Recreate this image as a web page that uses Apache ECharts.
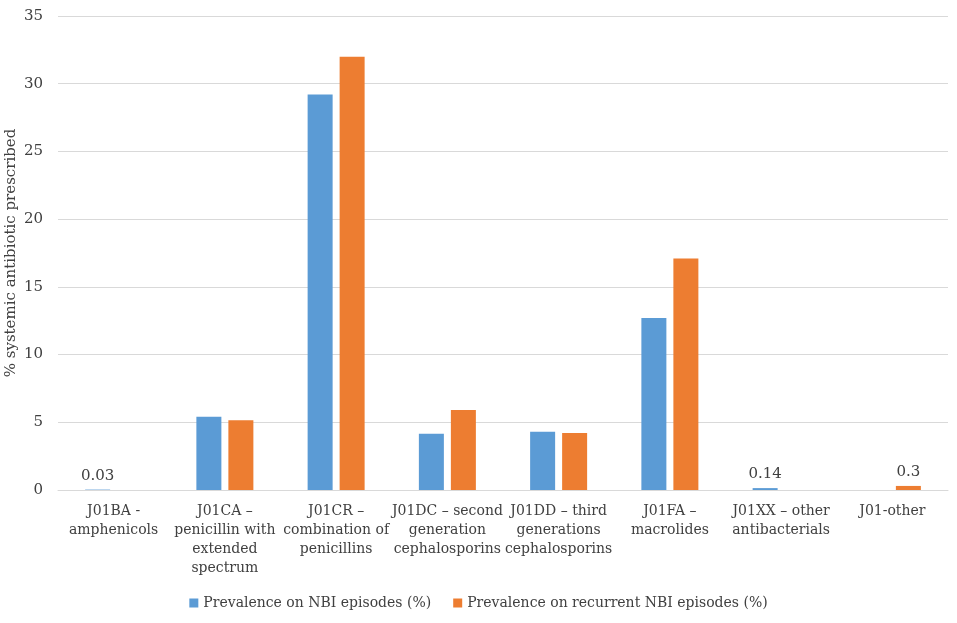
<!DOCTYPE html>
<html><head><meta charset="utf-8">
<script src="https://cdn.jsdelivr.net/npm/echarts@6/dist/echarts.min.js"></script>
<style>html,body{margin:0;padding:0;background:#fff}#c{width:957px;height:623px}</style>
</head><body><div id="c"></div>
<script>
const categories = [
  "J01BA -\namphenicols",
  "J01CA –\npenicillin with\nextended\nspectrum",
  "J01CR –\ncombination of\npenicillins",
  "J01DC – second\ngeneration\ncephalosporins",
  "J01DD – third\ngenerations\ncephalosporins",
  "J01FA –\nmacrolides",
  "J01XX – other\nantibacterials",
  "J01-other"
];
const nbiValues = [0.03, 5.4, 29.2, 4.15, 4.3, 12.7, 0.14, 0];
const recurrentValues = [0, 5.15, 32, 5.9, 4.2, 17.1, 0, 0.3];
const nbiLabelled = [0, 6];
const recurrentLabelled = [7];
const seriesNames = ["Prevalence on NBI episodes (%)", "Prevalence on recurrent NBI episodes (%)"];
const yTicks = { min: 0, max: 35, interval: 5 };

const font = "'DejaVu Serif', 'Liberation Serif', serif";
function build(vals, labelled) {
  return vals.map((v, i) => ({
    value: v,
    label: { show: labelled.includes(i), position: 'top', color: '#404040', fontSize: 15, fontFamily: font, distance: 6 }
  }));
}
const chart = echarts.init(document.getElementById('c'));
chart.setOption({
  backgroundColor: '#fff',
  animation: false,
  textStyle: { fontFamily: font },
  grid: { left: 58, right: 9, top: 16, bottom: 133, containLabel: false, outerBoundsMode: 'none' },
  legend: {
    bottom: 8, left: 'center',
    itemWidth: 9, itemHeight: 9, itemGap: 22,
    icon: 'rect',
    textStyle: { color: '#404040', fontSize: 14, fontFamily: font },
    data: seriesNames
  },
  xAxis: {
    type: 'category', data: categories,
    axisLine: { lineStyle: { color: '#d9d9d9', width: 1 } },
    axisTick: { show: false },
    axisLabel: { interval: 0, color: '#404040', fontSize: 14, lineHeight: 19, margin: 12, fontFamily: font }
  },
  yAxis: {
    type: 'value', min: yTicks.min, max: yTicks.max, interval: yTicks.interval,
    name: '% systemic antibiotic prescribed', nameLocation: 'middle', nameGap: 39, nameMoveOverlap: false,
    nameTextStyle: { color: '#404040', fontSize: 15, fontFamily: font },
    axisLine: { show: false }, axisTick: { show: false },
    axisLabel: { color: '#404040', fontSize: 15, margin: 15, fontFamily: font },
    splitLine: { lineStyle: { color: '#d9d9d9', width: 1 } }
  },
  series: [
    { name: seriesNames[0], type: 'bar', barWidth: 25, barGap: '28%', itemStyle: { color: '#5B9BD5' }, data: build(nbiValues, nbiLabelled) },
    { name: seriesNames[1], type: 'bar', barWidth: 25, itemStyle: { color: '#ED7D31' }, data: build(recurrentValues, recurrentLabelled) }
  ]
});
</script></body></html>
